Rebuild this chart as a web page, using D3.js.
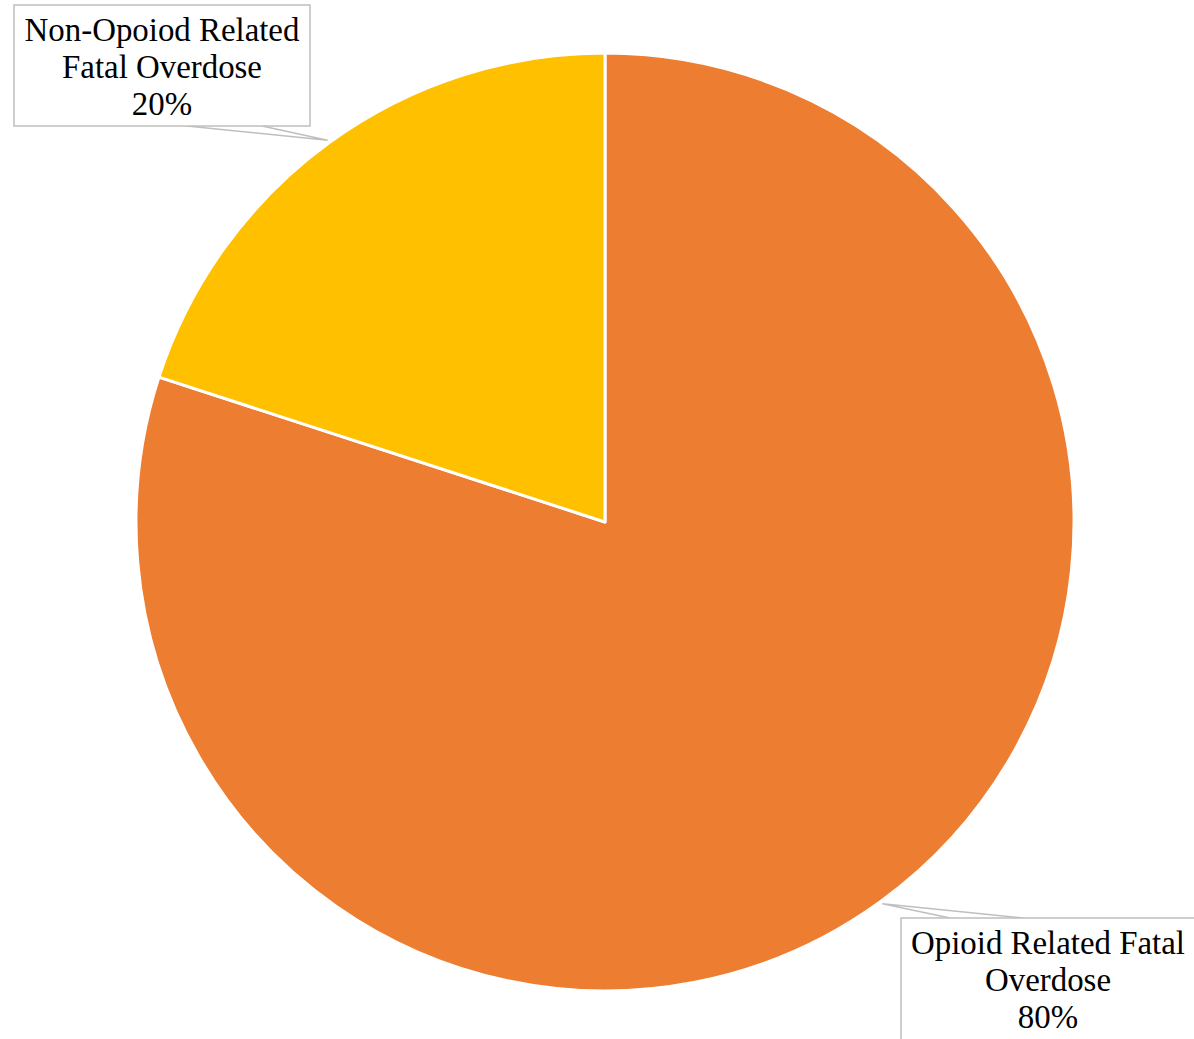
<!DOCTYPE html>
<html><head><meta charset="utf-8">
<script src="https://cdn.jsdelivr.net/npm/d3@7"></script>
<style>html,body{margin:0;padding:0;background:#fff;}svg{display:block;}</style>
</head><body>
<svg id="chart" width="1194" height="1039"></svg>
<script>
const categories = ["Opioid Related Fatal Overdose", "Non-Opoiod Related Fatal Overdose"];
const values = [80, 20];
const labelLines = [["Opioid Related Fatal", "Overdose", "80%"], ["Non-Opoiod Related", "Fatal Overdose", "20%"]];
const colors = ["#ED7D31", "#FFC000"];

const W = 1194, H = 1039;
const cx = 605, cy = 522, R = 469;
const svg = d3.select("#chart");
const g = svg.append("g").attr("transform", `translate(${cx},${cy})`);

const pie = d3.pie().sort(null).value(d => d)(values);
const arc = d3.arc().innerRadius(0).outerRadius(R);
g.selectAll("path.slice").data(pie).enter().append("path")
  .attr("class", "slice")
  .attr("d", arc)
  .attr("fill", (d, i) => colors[i])
  .attr("stroke", "#fff").attr("stroke-width", 3).attr("stroke-linejoin", "round");

// label callouts (layout)
const boxes = [
  {x: 901, y: 918, w: 300, h: 140, cx: 1048, base: 954, p1: 950, p2: 1023, edge: "top"},
  {x: 14, y: 5, w: 296, h: 121, cx: 162, base: 41, p1: 187, p2: 262, edge: "bottom"}
];
const lineH = 37;
const font = "'Liberation Serif', 'DejaVu Serif', serif";

pie.forEach((d, i) => {
  const b = boxes[i];
  const a = (d.startAngle + d.endAngle) / 2;
  const tx = cx + Math.sin(a) * (R + 3), ty = cy - Math.cos(a) * (R + 3);
  const ey = b.edge === "top" ? b.y : b.y + b.h;
  svg.append("path")
    .attr("d", `M${b.p1},${ey}L${tx},${ty}L${b.p2},${ey}`)
    .attr("fill", "none").attr("stroke", "#BFBFBF").attr("stroke-width", 1.5);
  svg.append("rect").attr("x", b.x).attr("y", b.y).attr("width", b.w).attr("height", b.h)
    .attr("fill", "#fff").attr("stroke", "#BFBFBF").attr("stroke-width", 1.5);
  const t = svg.append("text").attr("font-family", font).attr("font-size", 30)
    .attr("fill", "#000").attr("text-anchor", "middle");
  labelLines[i].forEach((ln, j) => {
    t.append("tspan").attr("x", b.cx).attr("y", b.base + j * lineH).text(ln);
  });
});

const texts = svg.selectAll("text").nodes();
const ref = d3.select(texts[1]).select("tspan").node();
const w = ref.getComputedTextLength();
const fs = 30 * 275 / w;
svg.selectAll("text").attr("font-size", fs);
</script>
</body></html>
